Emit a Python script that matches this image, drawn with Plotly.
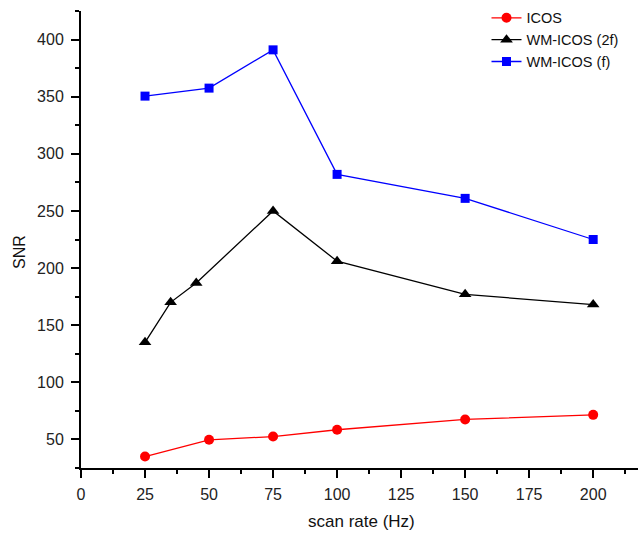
import plotly.graph_objects as go

x_icos = [25, 50, 75, 100, 150, 200]
y_icos = [35, 49.7, 52.5, 58.5, 67.5, 71.5]

x_2f = [25, 35, 45, 75, 100, 150, 200]
y_2f = [135, 170, 187, 250, 206, 177, 168]

x_f = [25, 50, 75, 100, 150, 200]
y_f = [350.5, 357.5, 391, 282, 261, 225]

FONT = "Arial, Liberation Sans, sans-serif"

fig = go.Figure()
fig.add_trace(go.Scatter(x=x_icos, y=y_icos, name="ICOS", mode="lines+markers",
                         line=dict(color="#ff0000", width=1.3),
                         marker=dict(symbol="circle", size=10, color="#ff0000")))
fig.add_trace(go.Scatter(x=x_2f, y=y_2f, name="WM-ICOS (2f)", mode="lines+markers",
                         line=dict(color="#000000", width=1.3),
                         marker=dict(symbol="triangle-up", size=11, color="#000000")))
fig.add_trace(go.Scatter(x=x_f, y=y_f, name="WM-ICOS (f)", mode="lines+markers",
                         line=dict(color="#0000ff", width=1.3),
                         marker=dict(symbol="square", size=9, color="#0000ff")))

axis_common = dict(showgrid=False, zeroline=False, showline=True, linecolor="#000",
                   linewidth=2, ticks="outside", ticklen=8, tickwidth=2, tickcolor="#000",
                   tickfont=dict(family=FONT, size=16, color="#222"))

fig.update_xaxes(range=[0, 217.5], tick0=0, dtick=25, ticklabelstandoff=3,
                 minor=dict(ticks="outside", ticklen=4, tickwidth=1.5, tickcolor="#000", dtick=12.5, showgrid=False),
                 **axis_common)
fig.update_yaxes(range=[25, 425], tick0=0, dtick=50, ticklabelstandoff=4,
                 minor=dict(ticks="outside", ticklen=4, tickwidth=1.5, tickcolor="#000", dtick=25, showgrid=False),
                 **axis_common)

fig.add_annotation(text="SNR", xref="paper", yref="paper", x=-0.1104, y=0.4716,
                   showarrow=False, textangle=-90,
                   font=dict(family=FONT, size=16, color="#111"),
                   xanchor="center", yanchor="middle")
fig.add_annotation(text="scan rate (Hz)", xref="paper", yref="paper", x=0.504, y=-0.117,
                   showarrow=False,
                   font=dict(family=FONT, size=17, color="#111"),
                   xanchor="center", yanchor="middle")

fig.update_layout(
    width=638, height=534,
    margin=dict(l=81, r=0, t=11, b=66),
    plot_bgcolor="white", paper_bgcolor="white",
    showlegend=True,
    legend=dict(x=0.728, y=1.02, xanchor="left", yanchor="top",
                bgcolor="rgba(0,0,0,0)", font=dict(family=FONT, size=14.5, color="#111"),
                itemwidth=30, tracegroupgap=0),
)

fig.write_html("out.html", config={"displayModeBar": False},
               post_script="document.body.style.margin='0';document.body.style.overflow='hidden';")
